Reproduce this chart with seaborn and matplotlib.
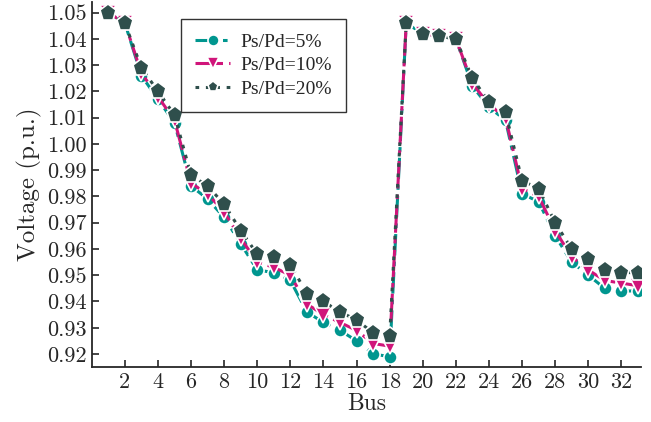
import matplotlib
matplotlib.use('Agg')
import matplotlib.pyplot as plt
import seaborn as sns
import numpy as np
import pandas as pd

# bus voltage profiles (p.u.)
bus = list(range(1, 34))
v_5 = [1.050, 1.046, 1.026, 1.017, 1.008, 0.984, 0.979, 0.972, 0.962, 0.952, 0.951,
       0.948, 0.936, 0.932, 0.929, 0.925, 0.920, 0.919, 1.046, 1.042, 1.041, 1.040,
       1.022, 1.014, 1.009, 0.981, 0.978, 0.965, 0.955, 0.950, 0.945, 0.944, 0.944]
v_10 = [1.050, 1.046, 1.027, 1.018, 1.009, 0.985, 0.981, 0.974, 0.964, 0.955, 0.953,
        0.950, 0.939, 0.935, 0.932, 0.929, 0.924, 0.923, 1.046, 1.042, 1.041, 1.040,
        1.023, 1.015, 1.010, 0.983, 0.980, 0.967, 0.957, 0.952, 0.948, 0.947, 0.946]
v_20 = [1.050, 1.046, 1.029, 1.020, 1.011, 0.988, 0.984, 0.977, 0.967, 0.958, 0.957,
        0.954, 0.943, 0.940, 0.936, 0.933, 0.928, 0.927, 1.046, 1.042, 1.041, 1.040,
        1.025, 1.016, 1.012, 0.986, 0.983, 0.970, 0.960, 0.956, 0.952, 0.951, 0.951]
labels = ['Ps/Pd=5%', 'Ps/Pd=10%', 'Ps/Pd=20%']
y_ticks = [0.92, 0.93, 0.94, 0.95, 0.96, 0.97, 0.98, 0.99, 1.00, 1.01, 1.02, 1.03, 1.04, 1.05]
x_ticks = list(range(2, 33, 2))

df = pd.DataFrame({'Bus': bus * 3,
                   'Voltage': v_5 + v_10 + v_20,
                   'case': np.repeat(labels, len(bus))})

sns.set_style('ticks')
plt.rcParams['font.family'] = ['cmr10', 'DejaVu Serif']
plt.rcParams['axes.formatter.use_mathtext'] = True

fig, ax = plt.subplots(figsize=(6.51, 4.22), dpi=100)

styles = {
    'Ps/Pd=5%': dict(color='#00968f', marker='o', ms=9.5, ls=(0, (7, 2, 1.5, 2))),
    'Ps/Pd=10%': dict(color='#d0157a', marker='v', ms=11, ls=(0, (9, 2, 1.5, 2))),
    'Ps/Pd=20%': dict(color='#2f4f4c', marker='p', ms=12.5, ls=(0, (1.2, 2.2))),
}
for lab in labels:
    st = styles[lab]
    sns.lineplot(data=df[df['case'] == lab], x='Bus', y='Voltage', ax=ax, label=lab,
                 color=st['color'], marker=st['marker'], markersize=st['ms'],
                 linestyle=st['ls'], linewidth=2.2, markeredgecolor='white',
                 markeredgewidth=1.2)

ax.set_xlim(0, 33.2)
ax.set_ylim(0.915, 1.054)
ax.set_xticks(x_ticks)
ax.set_xticklabels([str(t) for t in x_ticks])
ax.set_yticks(y_ticks)
ax.set_yticklabels(['%.2f' % t for t in y_ticks])
ax.tick_params(direction='in', labelsize=16, length=5, width=1.2)
for s in ['left', 'bottom']:
    ax.spines[s].set_linewidth(1.3)
sns.despine(ax=ax)
ax.set_xlabel('Bus', fontsize=17, labelpad=1)
ax.set_ylabel('Voltage (p.u.)', fontsize=18, labelpad=4)

leg = ax.legend(loc='upper left', bbox_to_anchor=(0.162, 0.955), fancybox=False,
                edgecolor='#333333', framealpha=1, handlelength=1.8,
                prop={'family': 'Liberation Serif', 'size': 14},
                borderpad=0.75, labelspacing=0.3, handletextpad=0.5,
                borderaxespad=0)
leg.get_frame().set_linewidth(1.0)
for h in leg.legend_handles:
    h.set_markersize(8)

fig.subplots_adjust(left=0.141, right=0.985, top=0.995, bottom=0.13)
fig.savefig('out.png', dpi=100)
